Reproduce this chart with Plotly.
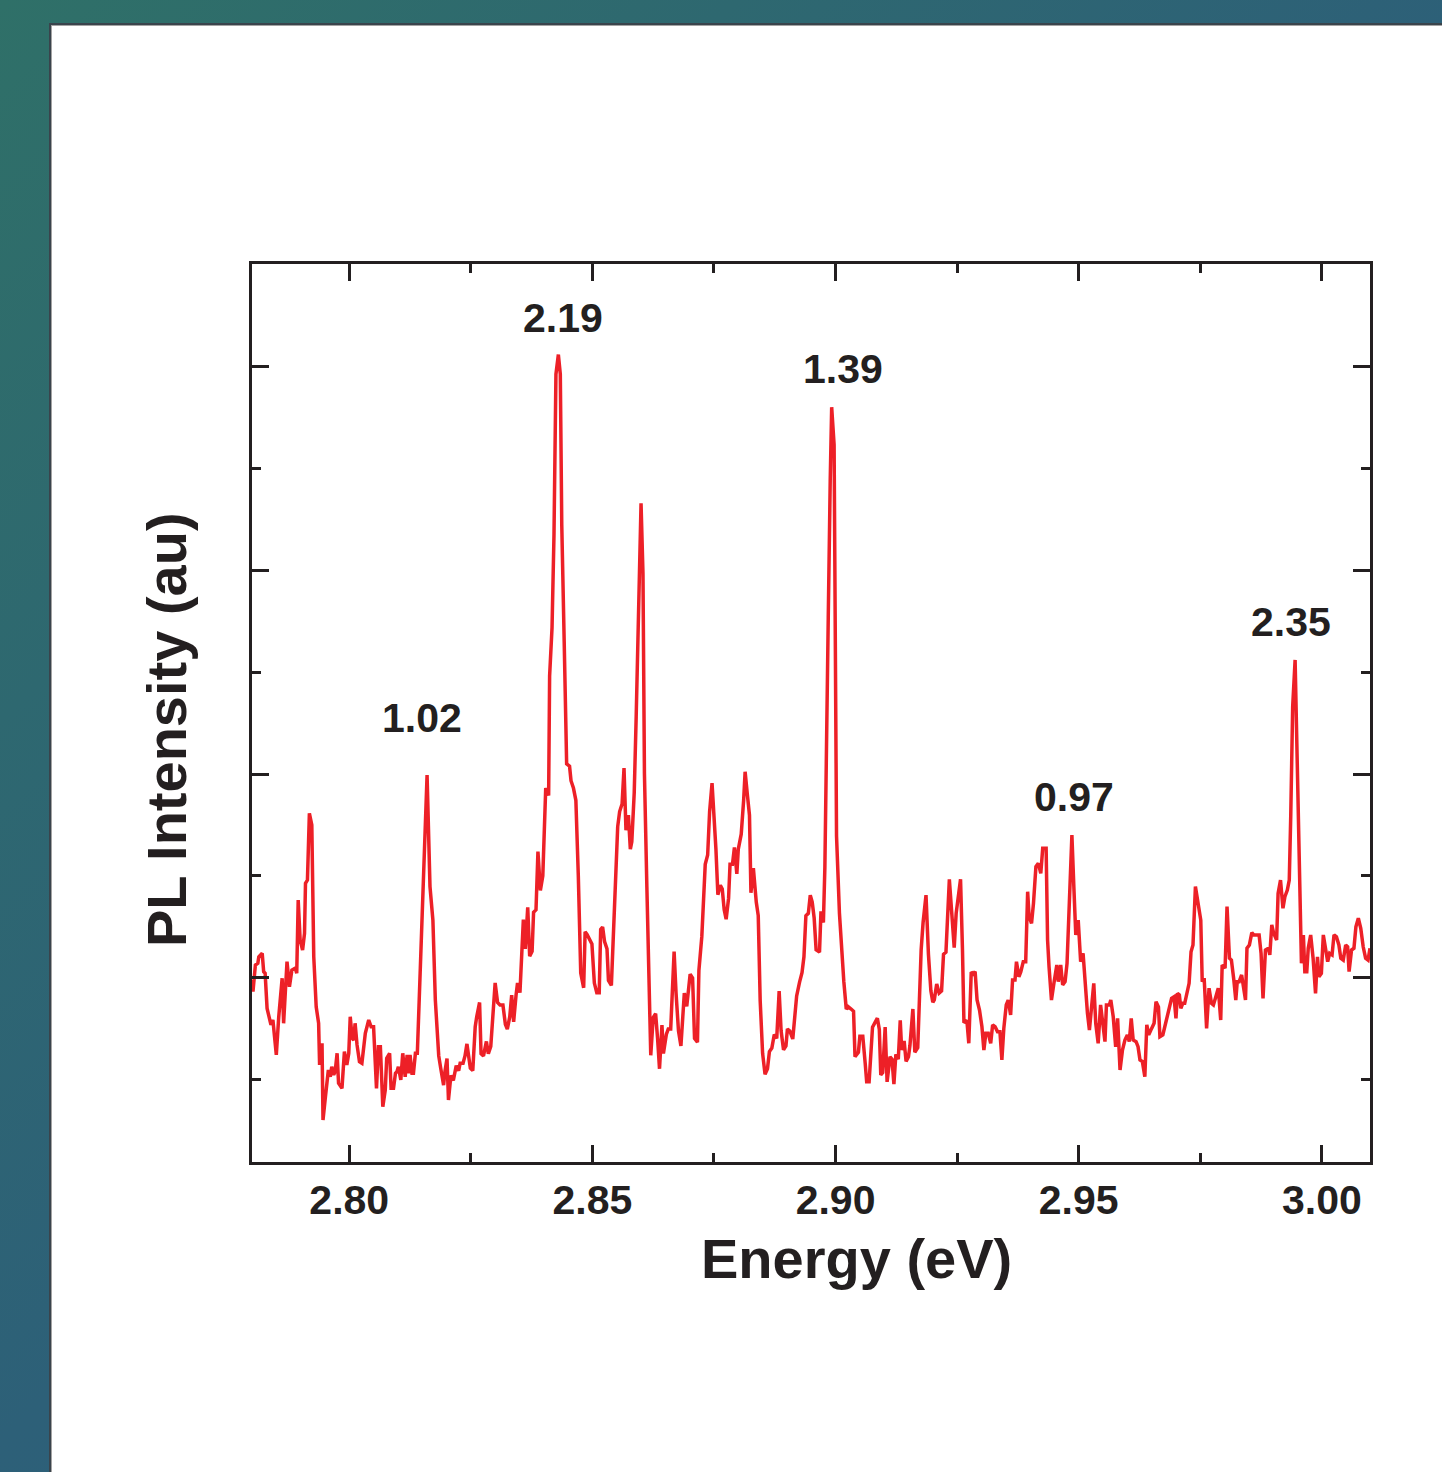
import base64
import plotly.graph_objects as go

# ---------------- data ----------------
energy_ev = [
    2.7800, 2.7802, 2.7807, 2.7812, 2.7814, 2.7821, 2.7824, 2.7827, 2.7831, 2.7836,
    2.7839, 2.7843, 2.7846, 2.7850, 2.7855, 2.7862, 2.7865, 2.7872, 2.7877, 2.7882,
    2.7889, 2.7892, 2.7895, 2.7899, 2.7904, 2.7908, 2.7910, 2.7914, 2.7918, 2.7923,
    2.7927, 2.7932, 2.7937, 2.7939, 2.7944, 2.7946, 2.7951, 2.7957, 2.7961, 2.7964,
    2.7968, 2.7971, 2.7975, 2.7978, 2.7985, 2.7990, 2.7995, 2.7999, 2.8002, 2.8006,
    2.8009, 2.8012, 2.8016, 2.8021, 2.8026, 2.8033, 2.8040, 2.8045, 2.8050, 2.8056,
    2.8060, 2.8064, 2.8069, 2.8074, 2.8077, 2.8083, 2.8086, 2.8091, 2.8095, 2.8098,
    2.8101, 2.8106, 2.8110, 2.8115, 2.8119, 2.8123, 2.8125, 2.8129, 2.8132, 2.8136,
    2.8140, 2.8146, 2.8153, 2.8160, 2.8166, 2.8172, 2.8177, 2.8184, 2.8188, 2.8194,
    2.8197, 2.8201, 2.8204, 2.8209, 2.8214, 2.8220, 2.8225, 2.8228, 2.8234, 2.8238,
    2.8242, 2.8245, 2.8249, 2.8254, 2.8259, 2.8262, 2.8268, 2.8271, 2.8276, 2.8282,
    2.8286, 2.8291, 2.8295, 2.8300, 2.8305, 2.8310, 2.8316, 2.8321, 2.8325, 2.8330,
    2.8334, 2.8338, 2.8343, 2.8346, 2.8351, 2.8355, 2.8358, 2.8362, 2.8367, 2.8371,
    2.8376, 2.8379, 2.8384, 2.8388, 2.8393, 2.8398, 2.8401, 2.8404, 2.8410, 2.8412,
    2.8417, 2.8421, 2.8425, 2.8430, 2.8434, 2.8437, 2.8442, 2.8447, 2.8453, 2.8456,
    2.8461, 2.8466, 2.8471, 2.8476, 2.8482, 2.8485, 2.8489, 2.8494, 2.8499, 2.8504,
    2.8509, 2.8514, 2.8517, 2.8521, 2.8525, 2.8530, 2.8533, 2.8539, 2.8543, 2.8549,
    2.8552, 2.8556, 2.8561, 2.8565, 2.8569, 2.8574, 2.8578, 2.8581, 2.8586, 2.8590,
    2.8595, 2.8600, 2.8604, 2.8607, 2.8612, 2.8617, 2.8620, 2.8625, 2.8630, 2.8634,
    2.8638, 2.8643, 2.8646, 2.8652, 2.8656, 2.8661, 2.8665, 2.8668, 2.8672, 2.8677,
    2.8682, 2.8686, 2.8689, 2.8694, 2.8697, 2.8701, 2.8706, 2.8710, 2.8716, 2.8719,
    2.8725, 2.8728, 2.8732, 2.8737, 2.8741, 2.8746, 2.8750, 2.8754, 2.8758, 2.8763,
    2.8767, 2.8771, 2.8775, 2.8780, 2.8783, 2.8788, 2.8792, 2.8797, 2.8800, 2.8806,
    2.8811, 2.8814, 2.8819, 2.8823, 2.8826, 2.8831, 2.8837, 2.8841, 2.8845, 2.8850,
    2.8855, 2.8860, 2.8864, 2.8869, 2.8874, 2.8879, 2.8884, 2.8888, 2.8893, 2.8898,
    2.8901, 2.8906, 2.8912, 2.8917, 2.8920, 2.8926, 2.8931, 2.8935, 2.8939, 2.8944,
    2.8948, 2.8952, 2.8956, 2.8960, 2.8967, 2.8970, 2.8975, 2.8978, 2.8982, 2.8985,
    2.8989, 2.8992, 2.8997, 2.8999, 2.9002, 2.9008, 2.9013, 2.9017, 2.9022, 2.9026,
    2.9032, 2.9037, 2.9040, 2.9047, 2.9050, 2.9056, 2.9061, 2.9064, 2.9069, 2.9072,
    2.9076, 2.9081, 2.9086, 2.9090, 2.9093, 2.9097, 2.9102, 2.9106, 2.9112, 2.9116,
    2.9120, 2.9124, 2.9129, 2.9133, 2.9136, 2.9141, 2.9145, 2.9150, 2.9153, 2.9159,
    2.9163, 2.9169, 2.9172, 2.9176, 2.9180, 2.9186, 2.9191, 2.9196, 2.9200, 2.9203,
    2.9208, 2.9213, 2.9218, 2.9222, 2.9227, 2.9230, 2.9234, 2.9239, 2.9244, 2.9248,
    2.9252, 2.9257, 2.9261, 2.9264, 2.9270, 2.9274, 2.9279, 2.9283, 2.9287, 2.9291,
    2.9296, 2.9301, 2.9305, 2.9309, 2.9314, 2.9319, 2.9323, 2.9328, 2.9333, 2.9338,
    2.9342, 2.9346, 2.9351, 2.9355, 2.9360, 2.9364, 2.9369, 2.9372, 2.9377, 2.9381,
    2.9386, 2.9391, 2.9395, 2.9398, 2.9403, 2.9407, 2.9412, 2.9417, 2.9422, 2.9426,
    2.9433, 2.9436, 2.9439, 2.9444, 2.9449, 2.9455, 2.9458, 2.9463, 2.9467, 2.9472,
    2.9476, 2.9481, 2.9486, 2.9490, 2.9494, 2.9499, 2.9504, 2.9509, 2.9513, 2.9518,
    2.9522, 2.9527, 2.9531, 2.9535, 2.9540, 2.9545, 2.9549, 2.9554, 2.9557, 2.9563,
    2.9566, 2.9571, 2.9576, 2.9580, 2.9585, 2.9590, 2.9595, 2.9600, 2.9604, 2.9608,
    2.9612, 2.9618, 2.9622, 2.9626, 2.9631, 2.9636, 2.9640, 2.9644, 2.9650, 2.9655,
    2.9659, 2.9664, 2.9667, 2.9673, 2.9677, 2.9682, 2.9686, 2.9691, 2.9696, 2.9700,
    2.9703, 2.9707, 2.9710, 2.9714, 2.9718, 2.9723, 2.9727, 2.9731, 2.9735, 2.9740,
    2.9746, 2.9751, 2.9754, 2.9758, 2.9763, 2.9768, 2.9773, 2.9777, 2.9782, 2.9787,
    2.9792, 2.9795, 2.9801, 2.9805, 2.9810, 2.9814, 2.9819, 2.9823, 2.9826, 2.9830,
    2.9835, 2.9838, 2.9843, 2.9846, 2.9851, 2.9856, 2.9860, 2.9866, 2.9871, 2.9875,
    2.9879, 2.9884, 2.9890, 2.9893, 2.9897, 2.9901, 2.9907, 2.9910, 2.9915, 2.9920,
    2.9924, 2.9929, 2.9933, 2.9936, 2.9940, 2.9945, 2.9949, 2.9953, 2.9958, 2.9962,
    2.9965, 2.9969, 2.9972, 2.9977, 2.9982, 2.9987, 2.9991, 2.9994, 2.9999, 3.0003,
    3.0008, 3.0012, 3.0016, 3.0021, 3.0025, 3.0030, 3.0035, 3.0039, 3.0044, 3.0049,
    3.0053, 3.0056, 3.0061, 3.0066, 3.0070, 3.0075, 3.0080, 3.0085, 3.0090, 3.0095,
    3.0099,
]

pl_intensity = [
    0.990, 0.933, 1.064, 1.072, 1.104, 1.121, 1.031, 1.023, 0.851, 0.802,
    0.770, 0.794, 0.712, 0.623, 0.810, 0.999, 0.778, 1.080, 0.957, 1.039,
    1.048, 1.023, 1.382, 1.186, 1.137, 1.219, 1.464, 1.480, 1.807, 1.750,
    1.104, 0.859, 0.778, 0.574, 0.680, 0.304, 0.418, 0.549, 0.516, 0.565,
    0.525, 0.541, 0.631, 0.484, 0.459, 0.639, 0.574, 0.631, 0.810, 0.704,
    0.696, 0.778, 0.672, 0.590, 0.582, 0.729, 0.794, 0.761, 0.761, 0.459,
    0.663, 0.663, 0.369, 0.451, 0.606, 0.631, 0.459, 0.459, 0.533, 0.541,
    0.565, 0.500, 0.631, 0.516, 0.623, 0.533, 0.623, 0.533, 0.533, 0.631,
    0.631, 1.023, 1.578, 1.995, 1.448, 1.284, 0.892, 0.618, 0.559, 0.475,
    0.546, 0.605, 0.402, 0.522, 0.498, 0.570, 0.546, 0.582, 0.582, 0.618,
    0.677, 0.629, 0.558, 0.546, 0.761, 0.809, 0.880, 0.629, 0.618, 0.689,
    0.629, 0.665, 0.785, 0.976, 0.880, 0.868, 0.868, 0.773, 0.749, 0.809,
    0.916, 0.785, 0.916, 0.976, 0.928, 1.119, 1.286, 1.143, 1.346, 1.107,
    1.131, 1.322, 1.334, 1.620, 1.429, 1.501, 1.668, 1.931, 1.895, 2.480,
    2.719, 3.173, 3.960, 4.056, 3.960, 3.220, 2.647, 2.050, 2.038, 1.967,
    1.931, 1.871, 1.501, 1.024, 0.952, 1.226, 1.214, 1.191, 1.167, 0.975,
    0.928, 0.928, 1.238, 1.250, 1.178, 1.143, 0.988, 0.964, 1.235, 1.578,
    1.742, 1.816, 1.853, 2.029, 1.724, 1.798, 1.631, 1.668, 1.909, 2.280,
    2.836, 3.327, 2.984, 2.001, 1.446, 0.889, 0.621, 0.806, 0.825, 0.704,
    0.555, 0.769, 0.630, 0.723, 0.750, 0.750, 0.982, 1.130, 0.926, 0.741,
    0.667, 0.797, 0.926, 0.861, 0.926, 1.019, 1.000, 0.704, 0.685, 1.038,
    1.204, 1.353, 1.557, 1.603, 1.816, 1.955, 1.816, 1.631, 1.408, 1.455,
    1.436, 1.334, 1.288, 1.390, 1.557, 1.557, 1.640, 1.510, 1.631, 1.705,
    1.872, 2.011, 1.890, 1.798, 1.418, 1.538, 1.371, 1.306, 0.889, 0.630,
    0.528, 0.555, 0.639, 0.657, 0.723, 0.704, 0.936, 0.741, 0.648, 0.667,
    0.750, 0.740, 0.701, 0.848, 0.912, 0.980, 1.026, 1.104, 1.305, 1.317,
    1.406, 1.372, 1.294, 1.138, 1.127, 1.327, 1.272, 1.540, 2.098, 2.767,
    3.436, 3.798, 3.615, 2.767, 1.696, 1.317, 1.116, 0.982, 0.848, 0.859,
    0.848, 0.837, 0.614, 0.636, 0.714, 0.714, 0.580, 0.491, 0.491, 0.636,
    0.759, 0.781, 0.803, 0.748, 0.525, 0.536, 0.759, 0.491, 0.614, 0.602,
    0.480, 0.625, 0.602, 0.792, 0.647, 0.692, 0.591, 0.614, 0.670, 0.848,
    0.636, 0.658, 0.893, 1.138, 1.272, 1.406, 1.116, 0.937, 0.881, 0.893,
    0.971, 0.926, 0.937, 1.116, 1.127, 1.317, 1.484, 1.317, 1.149, 1.317,
    1.406, 1.484, 1.138, 0.781, 0.792, 0.680, 1.029, 1.020, 1.031, 0.892,
    0.843, 0.761, 0.647, 0.729, 0.729, 0.680, 0.770, 0.761, 0.737, 0.737,
    0.598, 0.753, 0.868, 0.892, 0.819, 0.990, 0.990, 1.080, 1.006, 1.031,
    1.080, 1.080, 1.423, 1.301, 1.268, 1.366, 1.546, 1.562, 1.513, 1.636,
    1.636, 1.186, 1.055, 0.892, 0.974, 1.064, 0.982, 1.064, 0.966, 0.982,
    1.072, 1.448, 1.701, 1.448, 1.211, 1.284, 1.080, 1.121, 0.974, 0.827,
    0.745, 0.876, 0.974, 0.778, 0.680, 0.868, 0.778, 0.688, 0.868, 0.868,
    0.892, 0.810, 0.663, 0.802, 0.549, 0.647, 0.696, 0.721, 0.688, 0.802,
    0.696, 0.688, 0.663, 0.598, 0.590, 0.516, 0.770, 0.721, 0.753, 0.778,
    0.884, 0.858, 0.712, 0.721, 0.761, 0.810, 0.851, 0.900, 0.908, 0.802,
    0.925, 0.917, 0.851, 0.876, 0.876, 0.925, 0.974, 1.129, 1.162, 1.448,
    1.350, 1.284, 0.982, 0.999, 0.753, 0.950, 0.876, 0.868, 0.908, 0.950,
    0.794, 1.064, 1.048, 1.350, 1.097, 1.088, 0.990, 0.892, 0.982, 0.982,
    1.015, 0.957, 0.892, 1.146, 1.162, 1.222, 1.211, 1.211, 1.211, 1.121,
    0.900, 1.137, 1.146, 1.113, 1.260, 1.219, 1.186, 1.415, 1.480, 1.342,
    1.399, 1.431, 1.480, 1.791, 2.330, 2.559, 2.118, 1.627, 1.072, 1.211,
    1.031, 1.031, 1.146, 1.211, 1.097, 0.925, 1.104, 1.006, 1.023, 1.211,
    1.146, 1.080, 1.121, 1.113, 1.211, 1.202, 1.162, 1.097, 1.088, 1.162,
    1.153, 1.031, 1.137, 1.146, 1.251, 1.293, 1.244, 1.153, 1.097, 1.088,
    1.146,
]

# peak labels and the peak energy each one sits over
peak_labels = ["1.02", "2.19", "1.39", "0.97", "2.35"]
peak_energies = [2.8160, 2.8430, 2.8992, 2.9486, 2.9945]

x_tick_values = [2.80, 2.85, 2.90, 2.95, 3.00]
x_tick_labels = ["2.80", "2.85", "2.90", "2.95", "3.00"]

# ---------------- layout constants ----------------
W, H = 1442, 1472
ML, MR, MT, MB = 252, 72, 264, 310
PW, PH = W - ML - MR, H - MT - MB
INK = "#231f20"
RED = "#ed2027"
FONT = "Liberation Sans, Arial, Helvetica, sans-serif"

# background: gradient frame with a white panel
svg = f"""<svg xmlns="http://www.w3.org/2000/svg" width="{W}" height="{H}" viewBox="0 0 {W} {H}">
<defs><linearGradient id="g" x1="0" y1="0" x2="{W}" y2="{H}" gradientUnits="userSpaceOnUse">
<stop offset="0" stop-color="#2f7068"/><stop offset="0.5" stop-color="#2d6078"/>
<stop offset="1" stop-color="#2d5c7e"/></linearGradient></defs>
<rect x="0" y="0" width="{W}" height="{H}" fill="url(#g)"/>
<rect x="49" y="23" width="{W-49}" height="{H-23}" fill="#3a444c"/>
<rect x="51" y="25" width="{W-51}" height="{H-25}" fill="#a3a3a3"/>
<rect x="52" y="26" width="{W-52}" height="{H-26}" fill="#ffffff"/>
</svg>"""
svg_uri = "data:image/svg+xml;base64," + base64.b64encode(svg.encode()).decode()

fig = go.Figure()
fig.add_trace(go.Scatter(
    x=energy_ev, y=pl_intensity, mode="lines",
    line=dict(color=RED, width=3.5), hoverinfo="skip", showlegend=False,
))

axis_common = dict(
    showline=True, linecolor=INK, linewidth=3, mirror="ticks",
    ticks="inside", ticklen=17, tickwidth=3, tickcolor=INK,
    showgrid=False, zeroline=False,
)

fig.update_xaxes(
    range=[2.7800, 3.0099], tickmode="array", tickvals=x_tick_values, ticktext=x_tick_labels,
    tickfont=dict(family=FONT, size=41, color=INK, weight="bold"),
    minor=dict(ticks="inside", ticklen=9, tickwidth=3, tickcolor=INK, dtick=0.025, tick0=2.775),
    ticklabelstandoff=0,
    **axis_common,
)
fig.update_yaxes(
    range=[0.098, 4.5], tick0=0, dtick=1, showticklabels=False,
    minor=dict(ticks="inside", ticklen=9, tickwidth=3, tickcolor=INK, dtick=0.5, tick0=0),
    **axis_common,
)

annotations = []
# axis titles
annotations.append(dict(
    text="Energy (eV)", xref="paper", yref="paper", x=(856 - ML) / PW, y=-(1258 - MT - PH) / PH,
    xanchor="center", yanchor="middle", showarrow=False,
    font=dict(family=FONT, size=56, color=INK, weight="bold"),
))
annotations.append(dict(
    text="PL Intensity (au)", xref="paper", yref="paper", x=(166 - ML) / PW, y=(MT + PH - 730) / PH,
    xanchor="center", yanchor="middle", textangle=-90, showarrow=False,
    font=dict(family=FONT, size=56, color=INK, weight="bold"),
))

# peak labels anchored on the highest data point near each peak energy
label_xshift = [-5, 5, 11, 2, -4]
label_yshift = [57, 37, 38, 38, 38]
for lab, pe, dx, dy in zip(peak_labels, peak_energies, label_xshift, label_yshift):
    idx = [i for i, e in enumerate(energy_ev) if abs(e - pe) < 0.0015]
    ip = max(idx, key=lambda i: pl_intensity[i])
    annotations.append(dict(
        text=lab, x=energy_ev[ip], y=pl_intensity[ip], xref="x", yref="y",
        xanchor="center", yanchor="middle", xshift=dx, yshift=dy, showarrow=False,
        font=dict(family=FONT, size=41, color=INK, weight="bold"),
    ))

fig.update_layout(
    width=W, height=H,
    margin=dict(l=ML, r=MR, t=MT, b=MB),
    paper_bgcolor="white", plot_bgcolor="rgba(0,0,0,0)",
    annotations=annotations,
    images=[dict(
        source=svg_uri, xref="paper", yref="paper",
        x=-ML / PW, y=1 + MT / PH, sizex=W / PW, sizey=H / PH,
        xanchor="left", yanchor="top", sizing="stretch", layer="below",
    )],
)

fig.write_html(
    "out.html",
    config={"displayModeBar": False},
    post_script="document.body.style.margin='0';document.body.style.overflow='hidden';",
)
